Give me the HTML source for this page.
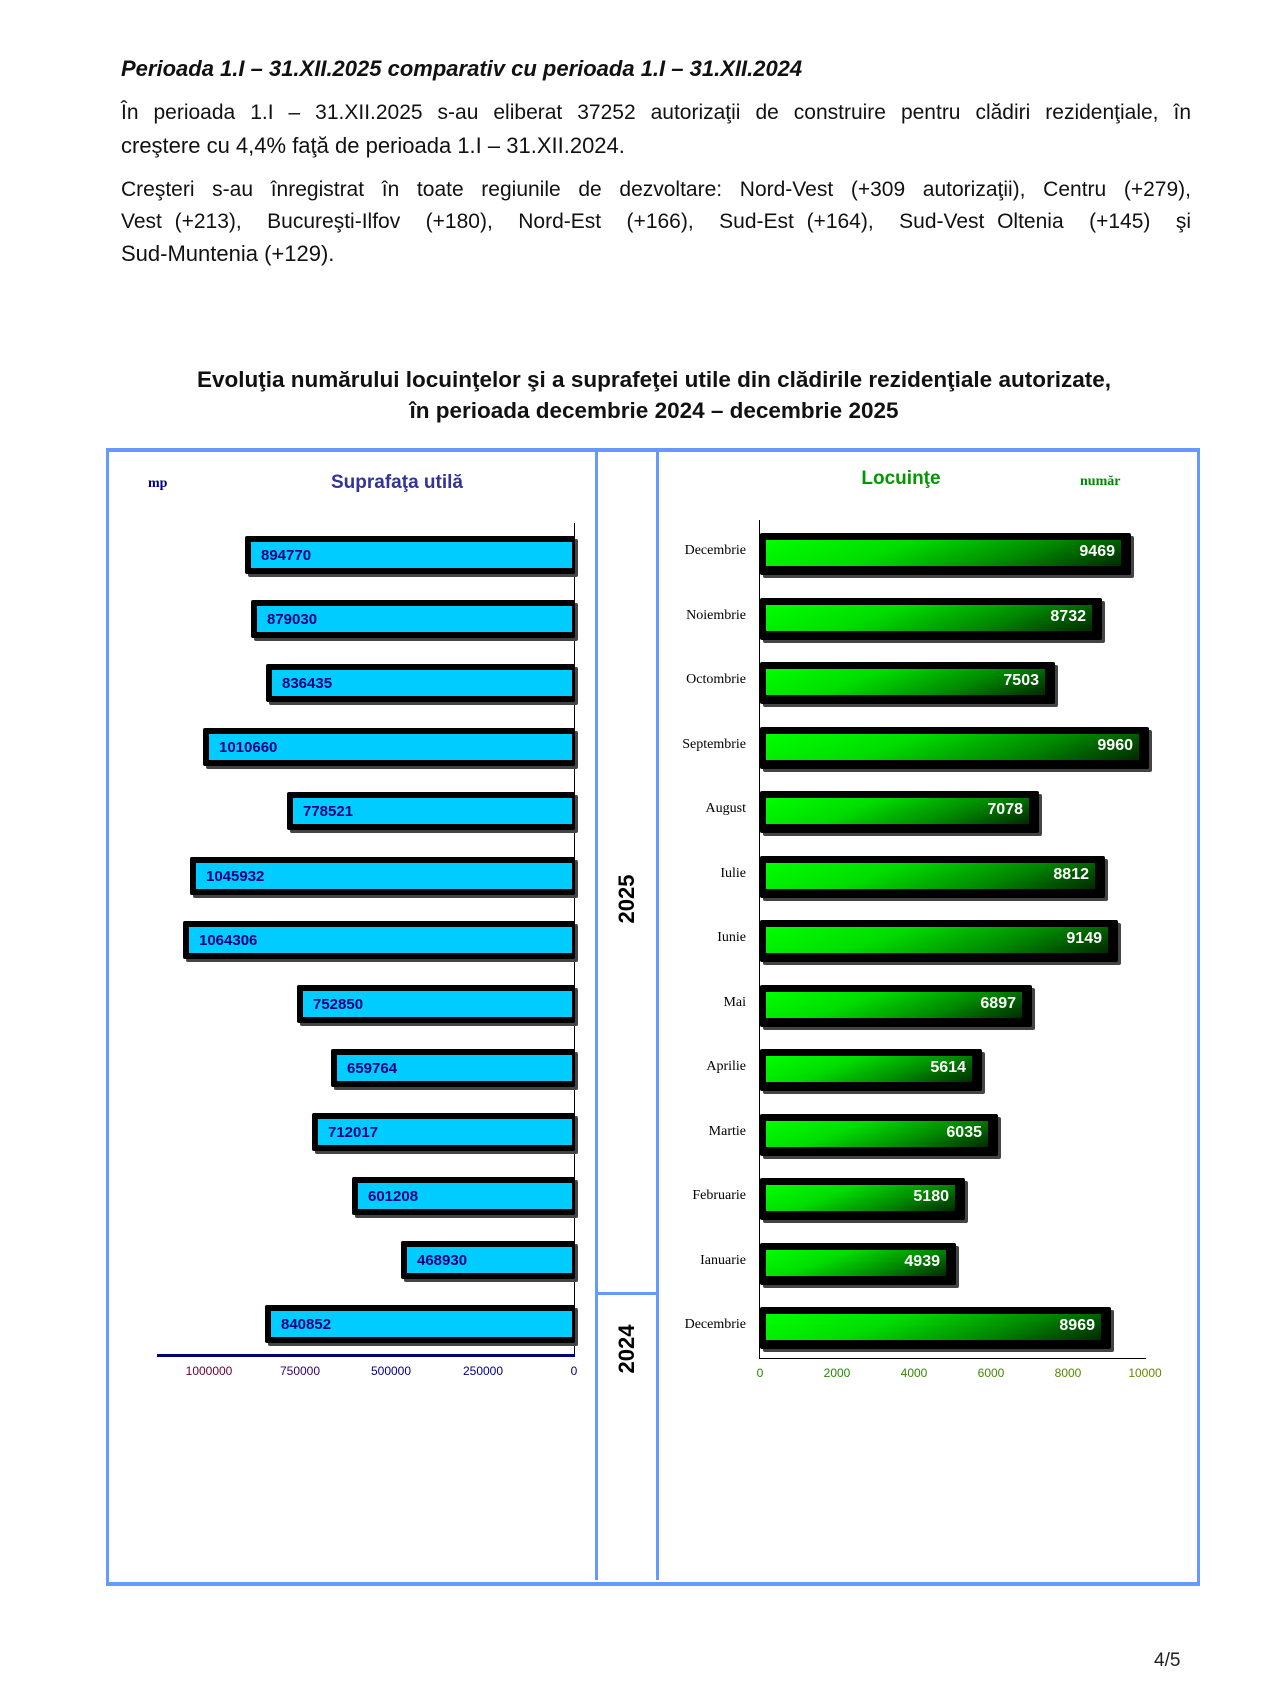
<!DOCTYPE html>
<html><head><meta charset="utf-8">
<style>
body{margin:0;width:1274px;height:1708px;background:#fff;position:relative;font-family:"Liberation Sans",sans-serif;overflow:hidden}
.a{position:absolute}
.tl{position:absolute;left:121px;width:1070px;font-size:21px;color:#111;white-space:nowrap}
.j{text-align:justify;text-align-last:justify;white-space:normal}
.lo{background:#000;box-shadow:3px 3px 0 #444;border-radius:2px}
.li{background:#00ccff}
.lv{position:absolute;font-size:15px;font-weight:bold;color:#000080}
.go{background:#000;box-shadow:3px 3px 0 #444;border-radius:2px}
.gi{background:linear-gradient(160deg,#00ff00 0%,#00dd00 35%,#008800 70%,#002a00 100%)}
.gv{position:absolute;font-size:16px;font-weight:bold;color:#fff;text-align:right;width:115px}
.m{position:absolute;font-family:"Liberation Serif",serif;font-size:14px;color:#000;text-align:right;width:120px;left:626px}
.tk{position:absolute;font-size:12px;text-align:center;width:70px}
</style></head><body>
<div class="tl" style="top:56px;font-weight:bold;font-style:italic;font-size:22px">Perioada 1.I – 31.XII.2025 comparativ cu perioada 1.I – 31.XII.2024</div>
<div class="tl j" style="top:101px">În perioada 1.I – 31.XII.2025 s-au eliberat 37252 autorizaţii de construire pentru clădiri rezidenţiale, în</div>
<div class="tl" style="top:133px;font-size:22px">creştere cu 4,4% faţă de perioada 1.I – 31.XII.2024.</div>
<div class="tl j" style="top:178px">Creşteri s-au înregistrat în toate regiunile de dezvoltare: Nord-Vest (+309 autorizaţii), Centru (+279),</div>
<div class="tl j" style="top:210px">Vest (+213), &nbsp;Bucureşti-Ilfov &nbsp;(+180), &nbsp;Nord-Est &nbsp;(+166), &nbsp;Sud-Est (+164), &nbsp;Sud-Vest Oltenia &nbsp;(+145) &nbsp;şi</div>
<div class="tl" style="top:241px;font-size:22px">Sud-Muntenia (+129).</div>

<div class="a" style="top:364px;left:0;width:1308px;text-align:center;font-weight:bold;font-size:22.5px;line-height:31px;color:#111">Evoluţia numărului locuinţelor şi a suprafeţei utile din clădirile rezidenţiale autorizate,<br>în perioada decembrie 2024 – decembrie 2025</div>

<!-- frame -->
<div class="a" style="left:106px;top:448px;width:1088px;height:1130px;border:3px solid #6699ff;border-top-width:4px;border-bottom-width:4px"></div>
<div class="a" style="left:595px;top:450px;width:3px;height:1130px;background:#6699ff"></div>
<div class="a" style="left:656px;top:450px;width:3px;height:1130px;background:#6699ff"></div>
<div class="a" style="left:597px;top:1292px;width:61px;height:3px;background:#6699ff"></div>
<div class="a" style="left:597px;top:886px;width:60px;text-align:center;font-size:22px;font-weight:bold;transform:rotate(-90deg)">2025</div>
<div class="a" style="left:597px;top:1336px;width:60px;text-align:center;font-size:22px;font-weight:bold;transform:rotate(-90deg)">2024</div>

<div class="a" style="left:148px;top:476px;font-family:'Liberation Serif',serif;font-weight:bold;font-size:14px;color:#000080">mp</div>
<div class="a" style="left:297px;top:472px;width:200px;text-align:center;font-size:19px;font-weight:bold;color:#333399">Suprafaţa utilă</div>
<div class="a" style="left:801px;top:468px;width:200px;text-align:center;font-size:19px;font-weight:bold;color:#009900">Locuinţe</div>
<div class="a" style="left:1080px;top:474px;font-family:'Liberation Serif',serif;font-weight:bold;font-size:14px;color:#008800">număr</div>

<!-- left axes -->
<div class="a" style="left:574px;top:523px;width:1px;height:834px;background:#000"></div>
<div class="a" style="left:157px;top:1354px;width:418px;height:3px;background:#000080"></div>
<div class="tk" style="left:174px;top:1364px;color:#660033">1000000</div>
<div class="tk" style="left:265px;top:1364px;color:#330066">750000</div>
<div class="tk" style="left:356px;top:1364px;color:#000080">500000</div>
<div class="tk" style="left:448px;top:1364px;color:#000080">250000</div>
<div class="tk" style="left:539px;top:1364px;color:#000080">0</div>

<!-- right axes -->
<div class="a" style="left:759px;top:520px;width:1px;height:839px;background:#000"></div>
<div class="a" style="left:759px;top:1358px;width:387px;height:1px;background:#000"></div>
<div class="tk" style="left:725px;top:1366px;color:#228800">0</div>
<div class="tk" style="left:802px;top:1366px;color:#228800">2000</div>
<div class="tk" style="left:879px;top:1366px;color:#338800">4000</div>
<div class="tk" style="left:956px;top:1366px;color:#448800">6000</div>
<div class="tk" style="left:1033px;top:1366px;color:#558800">8000</div>
<div class="tk" style="left:1110px;top:1366px;color:#668800">10000</div>

<!-- left bars -->
<div class="a lo" style="left:245px;top:536px;width:330px;height:38px"></div><div class="a li" style="left:251px;top:542px;width:321px;height:26px"></div><div class="lv" style="left:261px;top:547px">894770</div>
<div class="a lo" style="left:251px;top:600px;width:324px;height:38px"></div><div class="a li" style="left:257px;top:606px;width:315px;height:26px"></div><div class="lv" style="left:267px;top:611px">879030</div>
<div class="a lo" style="left:266px;top:664px;width:309px;height:38px"></div><div class="a li" style="left:272px;top:670px;width:300px;height:26px"></div><div class="lv" style="left:282px;top:675px">836435</div>
<div class="a lo" style="left:203px;top:728px;width:372px;height:38px"></div><div class="a li" style="left:209px;top:734px;width:363px;height:26px"></div><div class="lv" style="left:219px;top:739px">1010660</div>
<div class="a lo" style="left:287px;top:792px;width:288px;height:38px"></div><div class="a li" style="left:293px;top:798px;width:279px;height:26px"></div><div class="lv" style="left:303px;top:803px">778521</div>
<div class="a lo" style="left:190px;top:857px;width:385px;height:38px"></div><div class="a li" style="left:196px;top:863px;width:376px;height:26px"></div><div class="lv" style="left:206px;top:868px">1045932</div>
<div class="a lo" style="left:183px;top:921px;width:392px;height:38px"></div><div class="a li" style="left:189px;top:927px;width:383px;height:26px"></div><div class="lv" style="left:199px;top:932px">1064306</div>
<div class="a lo" style="left:297px;top:985px;width:278px;height:38px"></div><div class="a li" style="left:303px;top:991px;width:269px;height:26px"></div><div class="lv" style="left:313px;top:996px">752850</div>
<div class="a lo" style="left:331px;top:1049px;width:244px;height:38px"></div><div class="a li" style="left:337px;top:1055px;width:235px;height:26px"></div><div class="lv" style="left:347px;top:1060px">659764</div>
<div class="a lo" style="left:312px;top:1113px;width:263px;height:38px"></div><div class="a li" style="left:318px;top:1119px;width:254px;height:26px"></div><div class="lv" style="left:328px;top:1124px">712017</div>
<div class="a lo" style="left:352px;top:1177px;width:223px;height:38px"></div><div class="a li" style="left:358px;top:1183px;width:214px;height:26px"></div><div class="lv" style="left:368px;top:1188px">601208</div>
<div class="a lo" style="left:401px;top:1241px;width:174px;height:38px"></div><div class="a li" style="left:407px;top:1247px;width:165px;height:26px"></div><div class="lv" style="left:417px;top:1252px">468930</div>
<div class="a lo" style="left:265px;top:1305px;width:310px;height:38px"></div><div class="a li" style="left:271px;top:1311px;width:301px;height:26px"></div><div class="lv" style="left:281px;top:1316px">840852</div>

<!-- right bars -->
<div class="m" style="top:543px">Decembrie</div>
<div class="a go" style="left:760px;top:533px;width:371px;height:42px"></div><div class="a gi" style="left:766px;top:540px;width:355px;height:26px"></div><div class="gv" style="left:1000px;top:543px">9469</div>
<div class="m" style="top:608px">Noiembrie</div>
<div class="a go" style="left:760px;top:598px;width:342px;height:42px"></div><div class="a gi" style="left:766px;top:605px;width:326px;height:26px"></div><div class="gv" style="left:971px;top:608px">8732</div>
<div class="m" style="top:672px">Octombrie</div>
<div class="a go" style="left:760px;top:662px;width:295px;height:42px"></div><div class="a gi" style="left:766px;top:669px;width:279px;height:26px"></div><div class="gv" style="left:924px;top:672px">7503</div>
<div class="m" style="top:737px">Septembrie</div>
<div class="a go" style="left:760px;top:727px;width:389px;height:42px"></div><div class="a gi" style="left:766px;top:734px;width:373px;height:26px"></div><div class="gv" style="left:1018px;top:737px">9960</div>
<div class="m" style="top:801px">August</div>
<div class="a go" style="left:760px;top:791px;width:279px;height:42px"></div><div class="a gi" style="left:766px;top:798px;width:263px;height:26px"></div><div class="gv" style="left:908px;top:801px">7078</div>
<div class="m" style="top:866px">Iulie</div>
<div class="a go" style="left:760px;top:856px;width:345px;height:42px"></div><div class="a gi" style="left:766px;top:863px;width:329px;height:26px"></div><div class="gv" style="left:974px;top:866px">8812</div>
<div class="m" style="top:930px">Iunie</div>
<div class="a go" style="left:760px;top:920px;width:358px;height:42px"></div><div class="a gi" style="left:766px;top:927px;width:342px;height:26px"></div><div class="gv" style="left:987px;top:930px">9149</div>
<div class="m" style="top:995px">Mai</div>
<div class="a go" style="left:760px;top:985px;width:272px;height:42px"></div><div class="a gi" style="left:766px;top:992px;width:256px;height:26px"></div><div class="gv" style="left:901px;top:995px">6897</div>
<div class="m" style="top:1059px">Aprilie</div>
<div class="a go" style="left:760px;top:1049px;width:222px;height:42px"></div><div class="a gi" style="left:766px;top:1056px;width:206px;height:26px"></div><div class="gv" style="left:851px;top:1059px">5614</div>
<div class="m" style="top:1124px">Martie</div>
<div class="a go" style="left:760px;top:1114px;width:238px;height:42px"></div><div class="a gi" style="left:766px;top:1121px;width:222px;height:26px"></div><div class="gv" style="left:867px;top:1124px">6035</div>
<div class="m" style="top:1188px">Februarie</div>
<div class="a go" style="left:760px;top:1178px;width:205px;height:42px"></div><div class="a gi" style="left:766px;top:1185px;width:189px;height:26px"></div><div class="gv" style="left:834px;top:1188px">5180</div>
<div class="m" style="top:1253px">Ianuarie</div>
<div class="a go" style="left:760px;top:1243px;width:196px;height:42px"></div><div class="a gi" style="left:766px;top:1250px;width:180px;height:26px"></div><div class="gv" style="left:825px;top:1253px">4939</div>
<div class="m" style="top:1317px">Decembrie</div>
<div class="a go" style="left:760px;top:1307px;width:351px;height:42px"></div><div class="a gi" style="left:766px;top:1314px;width:335px;height:26px"></div><div class="gv" style="left:980px;top:1317px">8969</div>

<div class="a" style="left:1154px;top:1650px;font-size:19px;color:#222">4/5</div>
</body></html>
